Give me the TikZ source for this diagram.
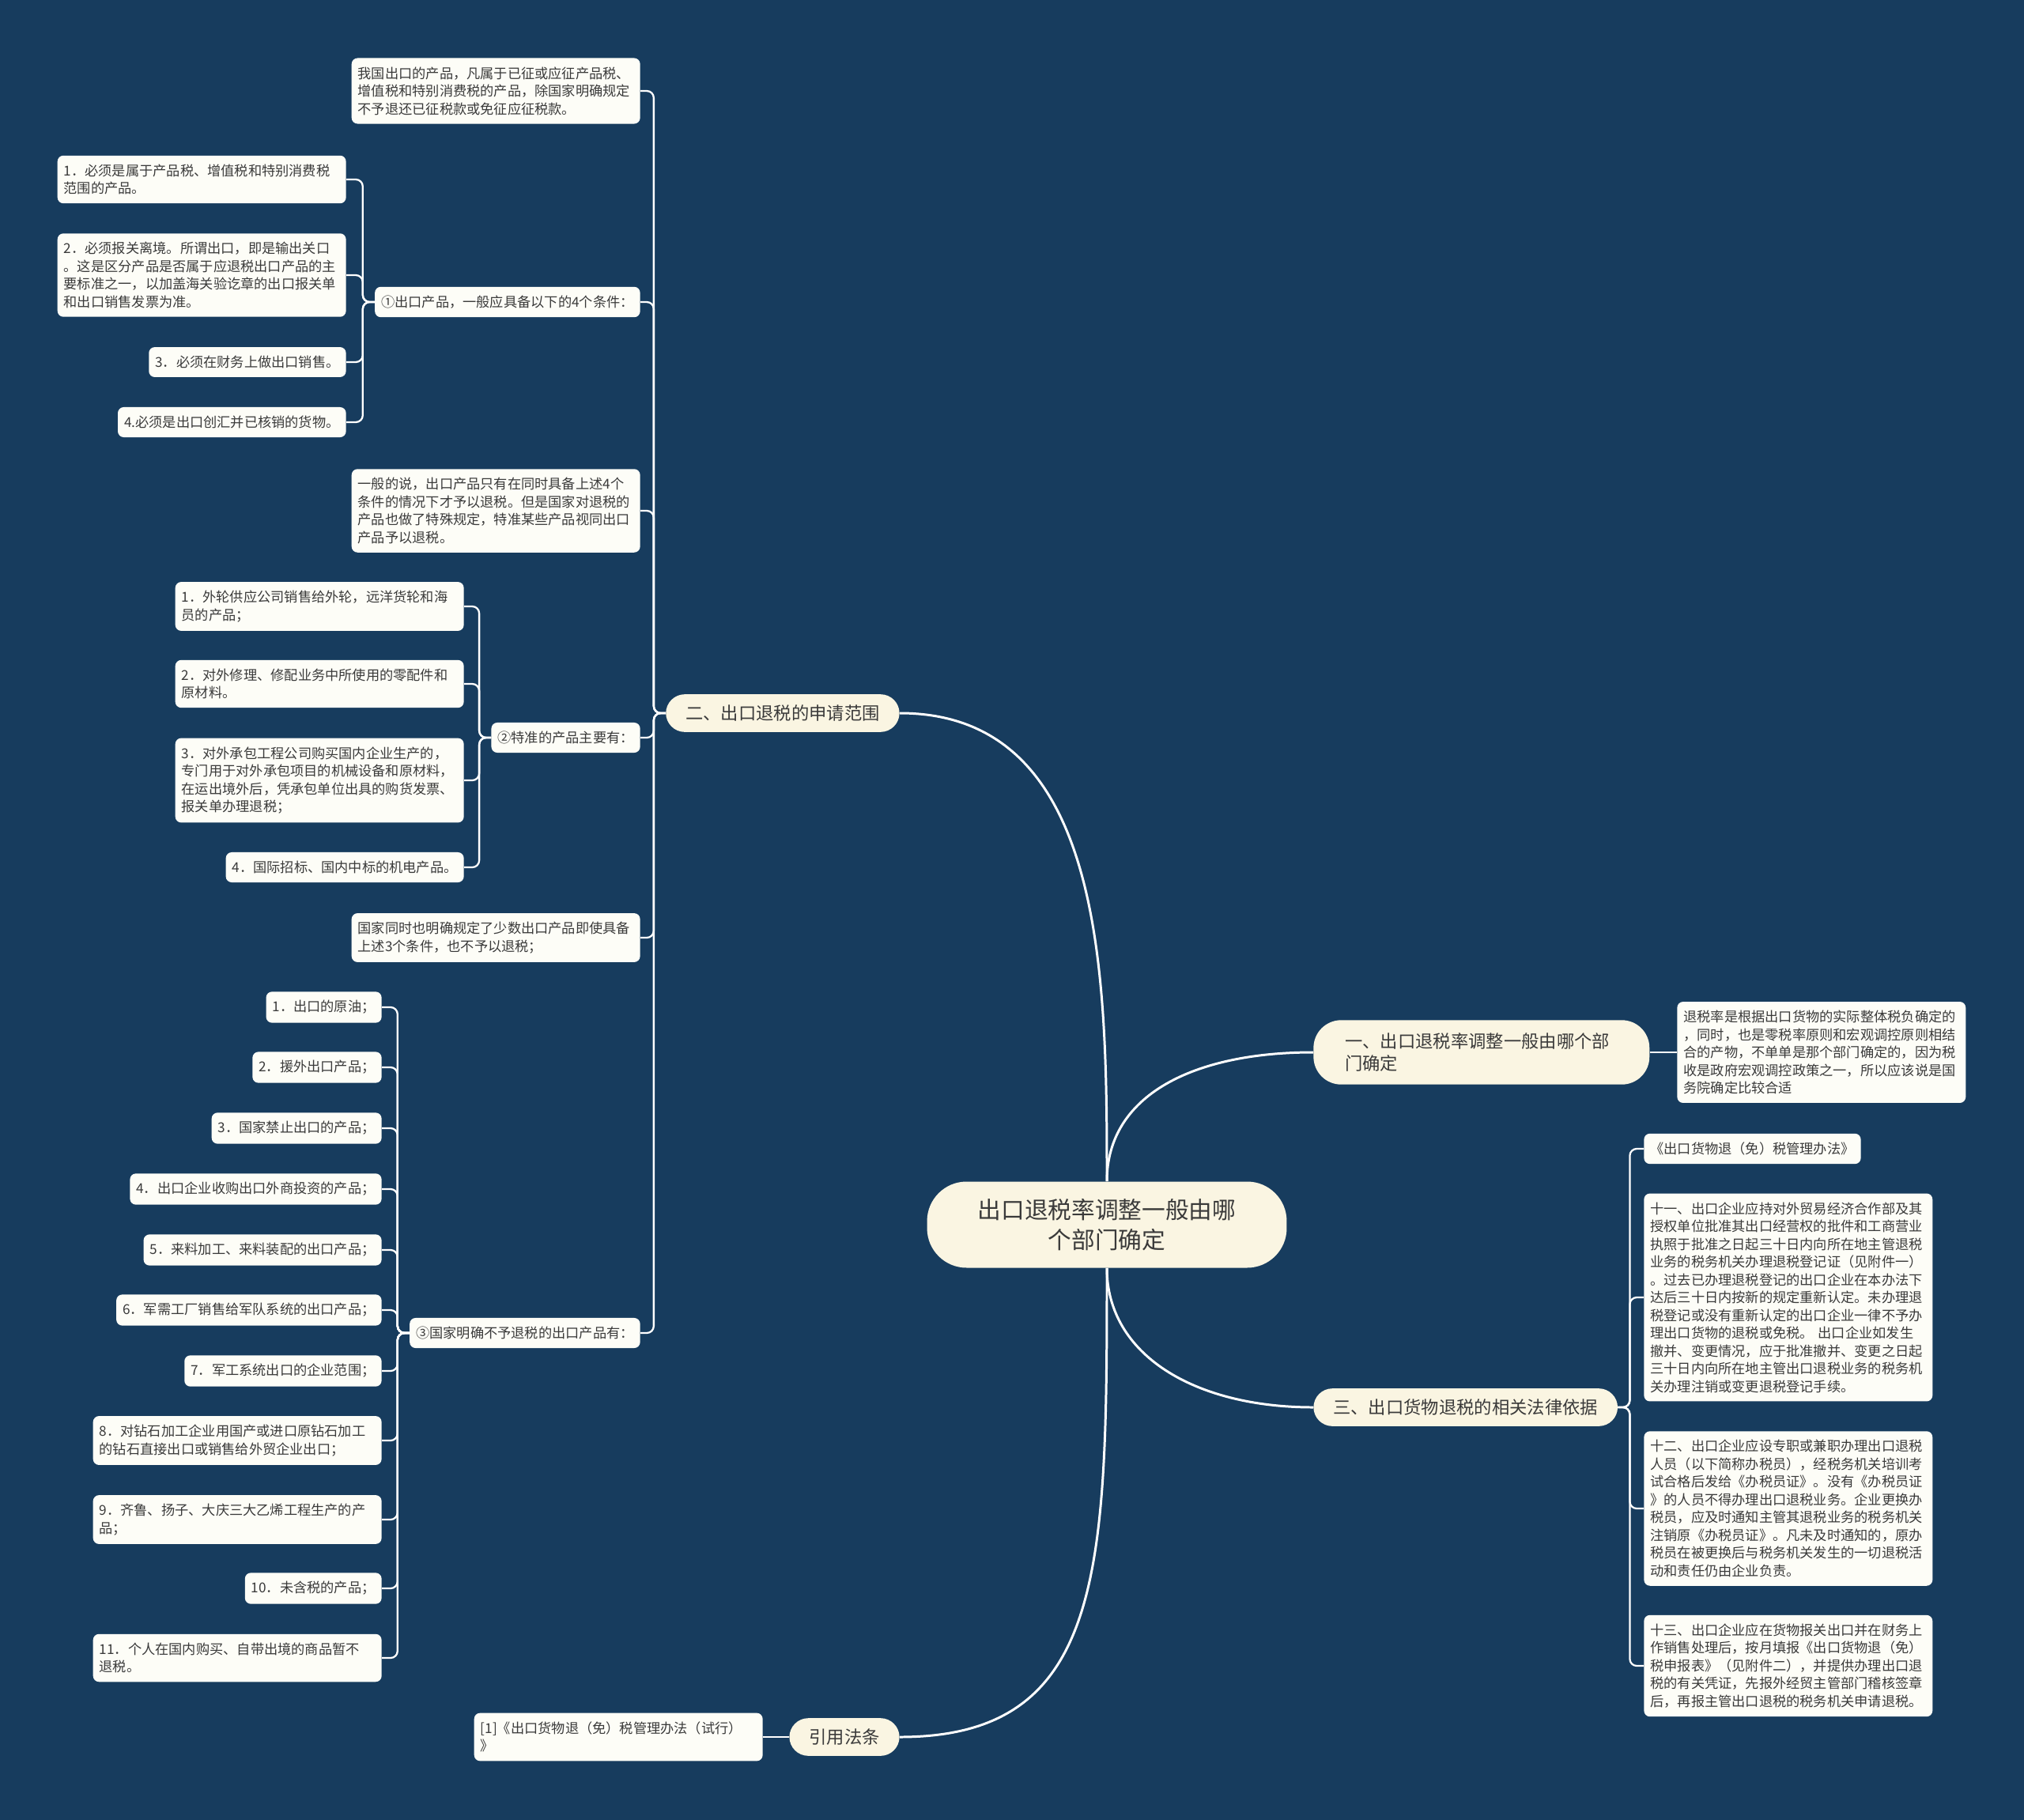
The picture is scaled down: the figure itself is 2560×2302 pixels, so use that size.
\documentclass[tikz,border=0pt]{standalone}
\usepackage{fontspec}
\setmainfont{Noto Sans CJK SC}
\definecolor{bgblue}{RGB}{23,60,94}
\definecolor{topiccream}{RGB}{250,245,226}
\definecolor{leafwhite}{RGB}{253,253,247}
\definecolor{inkgray}{RGB}{58,58,58}
\newcommand{\leaffont}{\fontsize{9.8pt}{12.8pt}\selectfont}
\newcommand{\topicfont}{\fontsize{12.7pt}{16.3pt}\selectfont}
\newcommand{\rootfont}{\fontsize{16.9pt}{21.3pt}\selectfont}

\begin{document}
\begin{tikzpicture}[x=0.02cm, y=-0.02cm]
  \tikzset{
    link/.style={draw=white, line width=1.3pt, rounded corners=5pt},
    mainlink/.style={draw=white, line width=1.7pt},
    leaf/.style={fill=leafwhite, text=inkgray, rounded corners=0.15cm, align=left, inner xsep=0.16cm, inner ysep=0.22cm, font=\leaffont},
    wideleaf/.style={leaf, text width=6.98cm},
    topic/.style={fill=topiccream, text=inkgray, rounded corners=0.48cm, align=left, inner xsep=0.5cm, inner ysep=0.27cm, font=\topicfont}
  }

  % Background
  \fill[bgblue] (0,0) rectangle (2560,2302);

  % Root and main topics
  \node[fill=topiccream, text=inkgray, rounded corners=1cm, minimum width=9.1cm, minimum height=2.18cm, align=center, font=\rootfont] (root) at (1400,1549) {出口退税率调整一般由哪\\个部门确定};

  \node[topic, anchor=east] (two) at (1138,902) {二、出口退税的申请范围};
  \node[topic, anchor=west, text width=6.9cm, inner xsep=0.8cm, inner ysep=0.32cm, rounded corners=0.7cm] (one) at (1661,1331) {一、出口退税率调整一般由哪个部\\门确定};
  \node[topic, anchor=west] (three) at (1661,1780) {三、出口货物退税的相关法律依据};
  \node[topic, anchor=east] (cite) at (1138,2197) {引用法条};

  % Branch two
  \node[wideleaf, anchor=east] (prodnote) at (810,115) {我国出口的产品，凡属于已征或应征产品税、\\增值税和特别消费税的产品，除国家明确规定\\不予退还已征税款或免征应征税款。};
  \node[leaf, anchor=east] (cond) at (810,382) {①出口产品，一般应具备以下的4个条件：};
  \node[wideleaf, anchor=east] (specnote) at (810,646) {一般的说，出口产品只有在同时具备上述4个\\条件的情况下才予以退税。但是国家对退税的\\产品也做了特殊规定，特准某些产品视同出口\\产品予以退税。};
  \node[leaf, anchor=east] (spec) at (810,933) {②特准的产品主要有：};
  \node[wideleaf, anchor=east] (excnote) at (810,1186) {国家同时也明确规定了少数出口产品即使具备\\上述3个条件，也不予以退税；};
  \node[leaf, anchor=east] (excl) at (810,1686) {③国家明确不予退税的出口产品有：};

  \node[wideleaf, anchor=east] (cond1) at (438,227) {1．必须是属于产品税、增值税和特别消费税\\范围的产品。};
  \node[wideleaf, anchor=east] (cond2) at (438,348) {2．必须报关离境。所谓出口，即是输出关口\\。这是区分产品是否属于应退税出口产品的主\\要标准之一，以加盖海关验讫章的出口报关单\\和出口销售发票为准。};
  \node[leaf, anchor=east] (cond3) at (438,458) {3．必须在财务上做出口销售。};
  \node[leaf, anchor=east] (cond4) at (438,534) {4.必须是出口创汇并已核销的货物。};

  \node[wideleaf, anchor=east] (spec1) at (587,767) {1．外轮供应公司销售给外轮，远洋货轮和海\\员的产品；};
  \node[wideleaf, anchor=east] (spec2) at (587,865) {2．对外修理、修配业务中所使用的零配件和\\原材料。};
  \node[wideleaf, anchor=east] (spec3) at (587,987) {3．对外承包工程公司购买国内企业生产的，\\专门用于对外承包项目的机械设备和原材料，\\在运出境外后，凭承包单位出具的购货发票、\\报关单办理退税；};
  \node[leaf, anchor=east] (spec4) at (587,1097) {4．国际招标、国内中标的机电产品。};

  \node[leaf, anchor=east] (excl1) at (483,1274) {1．出口的原油；};
  \node[leaf, anchor=east] (excl2) at (483,1350) {2．援外出口产品；};
  \node[leaf, anchor=east] (excl3) at (483,1427) {3．国家禁止出口的产品；};
  \node[leaf, anchor=east] (excl4) at (483,1504) {4．出口企业收购出口外商投资的产品；};
  \node[leaf, anchor=east] (excl5) at (483,1581) {5．来料加工、来料装配的出口产品；};
  \node[leaf, anchor=east] (excl6) at (483,1657) {6．军需工厂销售给军队系统的出口产品；};
  \node[leaf, anchor=east] (excl7) at (483,1734) {7．军工系统出口的企业范围；};
  \node[wideleaf, anchor=east] (excl8) at (483,1822) {8．对钻石加工企业用国产或进口原钻石加工\\的钻石直接出口或销售给外贸企业出口；};
  \node[wideleaf, anchor=east] (excl9) at (483,1922) {9．齐鲁、扬子、大庆三大乙烯工程生产的产\\品；};
  \node[leaf, anchor=east] (excl10) at (483,2009) {10．未含税的产品；};
  \node[wideleaf, anchor=east] (excl11) at (483,2097) {11．个人在国内购买、自带出境的商品暂不\\退税。};

  % Branch one
  \node[wideleaf, anchor=west] (onenote) at (2121,1331) {退税率是根据出口货物的实际整体税负确定的\\，同时，也是零税率原则和宏观调控原则相结\\合的产物，不单单是那个部门确定的，因为税\\收是政府宏观调控政策之一，所以应该说是国\\务院确定比较合适};

  % Branch three
  \node[leaf, anchor=west] (law1) at (2079,1453) {《出口货物退（免）税管理办法》};
  \node[wideleaf, anchor=west] (law2) at (2079,1641) {十一、出口企业应持对外贸易经济合作部及其\\授权单位批准其出口经营权的批件和工商营业\\执照于批准之日起三十日内向所在地主管退税\\业务的税务机关办理退税登记证（见附件一）\\。过去已办理退税登记的出口企业在本办法下\\达后三十日内按新的规定重新认定。未办理退\\税登记或没有重新认定的出口企业一律不予办\\理出口货物的退税或免税。 出口企业如发生\\撤并、变更情况，应于批准撤并、变更之日起\\三十日内向所在地主管出口退税业务的税务机\\关办理注销或变更退税登记手续。};
  \node[wideleaf, anchor=west] (law3) at (2079,1908) {十二、出口企业应设专职或兼职办理出口退税\\人员（以下简称办税员），经税务机关培训考\\试合格后发给《办税员证》。没有《办税员证\\》的人员不得办理出口退税业务。企业更换办\\税员，应及时通知主管其退税业务的税务机关\\注销原《办税员证》。凡未及时通知的，原办\\税员在被更换后与税务机关发生的一切退税活\\动和责任仍由企业负责。};
  \node[wideleaf, anchor=west] (law4) at (2079,2107) {十三、出口企业应在货物报关出口并在财务上\\作销售处理后，按月填报《出口货物退（免）\\税申报表》（见附件二），并提供办理出口退\\税的有关凭证，先报外经贸主管部门稽核签章\\后，再报主管出口退税的税务机关申请退税。};

  % Cited law
  \node[wideleaf, anchor=east] (citenote) at (965,2197) {[1]《出口货物退（免）税管理办法（试行）\\》};

  % Root connectors
  \draw[mainlink] (root.north) .. controls +(0,-260) and +(260,0) .. (two.east);
  \draw[mainlink] (root.north) .. controls +(0,-110) and +(-150,0) .. (one.west);
  \draw[mainlink] (root.south) .. controls +(0,110) and +(-150,0) .. (three.west);
  \draw[mainlink] (root.south) .. controls +(0,380) and +(260,0) .. (cite.east);

  % Branch two connectors
  \draw[link] (two.west) -- ++(-15,0) |- (prodnote.east);
  \draw[link] (two.west) -- ++(-15,0) |- (cond.east);
  \draw[link] (two.west) -- ++(-15,0) |- (specnote.east);
  \draw[link] (two.west) -- ++(-15,0) |- (spec.east);
  \draw[link] (two.west) -- ++(-15,0) |- (excnote.east);
  \draw[link] (two.west) -- ++(-15,0) |- (excl.east);

  \draw[link] (cond.west) -- ++(-15,0) |- (cond1.east);
  \draw[link] (cond.west) -- ++(-15,0) |- (cond2.east);
  \draw[link] (cond.west) -- ++(-15,0) |- (cond3.east);
  \draw[link] (cond.west) -- ++(-15,0) |- (cond4.east);

  \draw[link] (spec.west) -- ++(-15,0) |- (spec1.east);
  \draw[link] (spec.west) -- ++(-15,0) |- (spec2.east);
  \draw[link] (spec.west) -- ++(-15,0) |- (spec3.east);
  \draw[link] (spec.west) -- ++(-15,0) |- (spec4.east);

  \draw[link] (excl.west) -- ++(-15,0) |- (excl1.east);
  \draw[link] (excl.west) -- ++(-15,0) |- (excl2.east);
  \draw[link] (excl.west) -- ++(-15,0) |- (excl3.east);
  \draw[link] (excl.west) -- ++(-15,0) |- (excl4.east);
  \draw[link] (excl.west) -- ++(-15,0) |- (excl5.east);
  \draw[link] (excl.west) -- ++(-15,0) |- (excl6.east);
  \draw[link] (excl.west) -- ++(-15,0) |- (excl7.east);
  \draw[link] (excl.west) -- ++(-15,0) |- (excl8.east);
  \draw[link] (excl.west) -- ++(-15,0) |- (excl9.east);
  \draw[link] (excl.west) -- ++(-15,0) |- (excl10.east);
  \draw[link] (excl.west) -- ++(-15,0) |- (excl11.east);

  % Branch one and three connectors
  \draw[link] (one.east) -- (onenote.west);
  \draw[link] (three.east) -- ++(15,0) |- (law1.west);
  \draw[link] (three.east) -- ++(15,0) |- (law2.west);
  \draw[link] (three.east) -- ++(15,0) |- (law3.west);
  \draw[link] (three.east) -- ++(15,0) |- (law4.west);

  \draw[link] (cite.west) -- (citenote.east);

\end{tikzpicture}
\end{document}
